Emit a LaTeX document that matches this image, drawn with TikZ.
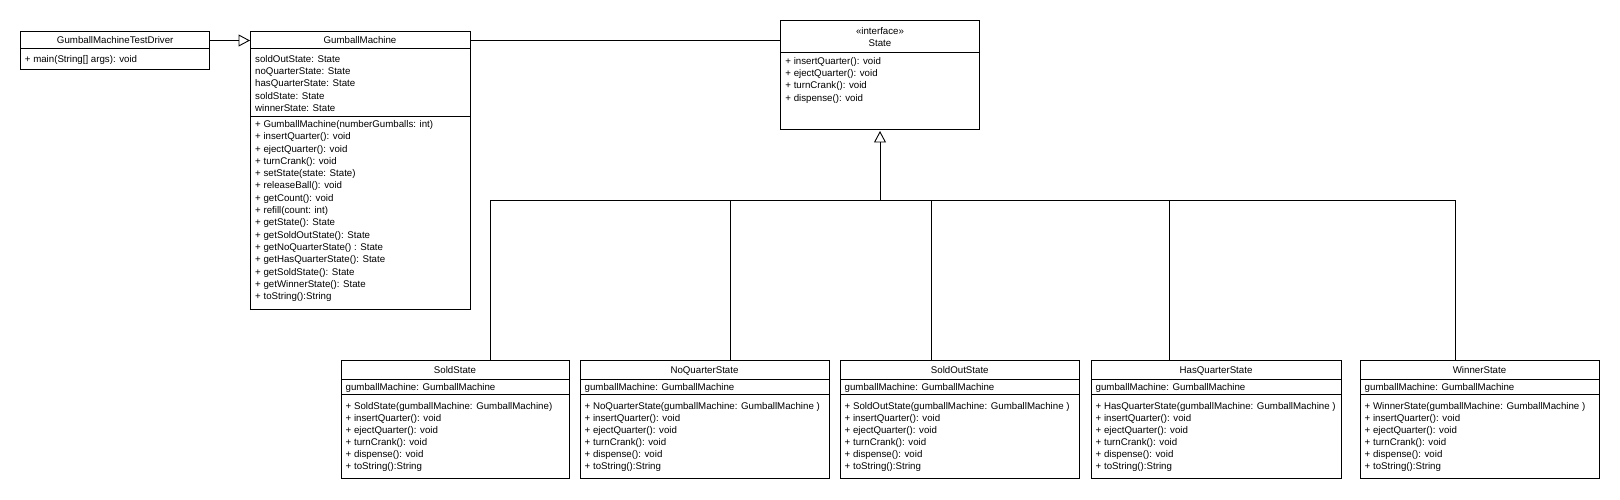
\documentclass[tikz,border=0pt]{standalone}
\usepackage{fontspec}
\setmainfont{Liberation Sans}
\usetikzlibrary{arrows.meta}
\newcommand\umlfont{\fontsize{9.7pt}{12pt}\selectfont}
\tikzset{
  umlbox/.style={draw=black, line width=0.9pt, fill=white, anchor=north west, inner sep=0pt, outer sep=0pt},
  ln/.style={anchor=base west, inner sep=0pt, font=\umlfont},
  ttl/.style={anchor=base, inner sep=0pt, font=\umlfont},
  conn/.style={draw=black, line width=0.9pt},
  gen/.style={conn, -{Triangle[open, length=11.5pt, width=12pt, line width=0.9pt]}},
}
\newcommand\umllines[5]{%
  \foreach \itm [count=\i] in {#5} {\node[ln] (#1\i) at (#2,{#3+#4*(\i-1)}) {\itm};}}
\newcommand\subcls[6]{%
  \node[umlbox, minimum width=#3pt, minimum height=118pt] (#1) at (#2,360) {};
  \draw[conn] ([yshift=-19pt]#1.north west) -- ([yshift=-19pt]#1.north east);
  \draw[conn] ([yshift=-34pt]#1.north west) -- ([yshift=-34pt]#1.north east);
  \node[ttl] (#1-t) at ({#2+#3/2},373) {#4};
  \node[ln] (#1-a1) at ({#2+4.5},390) {gumballMachine: GumballMachine};
  \umllines{#1-m}{#2+4.5}{409.5}{12}{{#6},{+ insertQuarter(): void},{+ ejectQuarter(): void},{+ turnCrank(): void},{+ dispense(): void},{+ toString():String}}
  \draw[conn] ([xshift={(#5-#2)*1pt}]#1.north west) |- (hub);
}
\begin{document}
\begin{tikzpicture}[x=1pt,y=-1pt]
\useasboundingbox[fill=white] (0,0) rectangle (1620,500);

% GumballMachineTestDriver
\node[umlbox, minimum width=189pt, minimum height=38pt] (driver) at (20.7,31) {};
\draw[conn] ([yshift=-17.6pt]driver.north west) -- ([yshift=-17.6pt]driver.north east);
\node[ttl] (driver-t) at (115.2,44) {GumballMachineTestDriver};
\node[ln] (driver-m1) at (24.7,62.5) {+ main(String[] args): void};

% GumballMachine
\node[umlbox, minimum width=220pt, minimum height=278pt] (gm) at (250,31) {};
\draw[conn] ([yshift=-17.6pt]gm.north west) -- ([yshift=-17.6pt]gm.north east);
\draw[conn] ([yshift=-85.8pt]gm.north west) -- ([yshift=-85.8pt]gm.north east);
\node[ttl] (gm-t) at (360,44) {GumballMachine};
\umllines{gm-a}{255}{62.5}{12.2}{{soldOutState: State},{noQuarterState: State},{hasQuarterState: State},{soldState: State},{winnerState: State}}
\umllines{gm-m}{255}{127.5}{12.3}{{+ GumballMachine(numberGumballs: int)},{+ insertQuarter(): void},{+ ejectQuarter(): void},{+ turnCrank(): void},{+ setState(state: State)},{+ releaseBall(): void},{+ getCount(): void},{+ refill(count: int)},{+ getState(): State},{+ getSoldOutState(): State},{+ getNoQuarterState() : State},{+ getHasQuarterState(): State},{+ getSoldState(): State},{+ getWinnerState(): State},{+ toString():String}}

% State interface
\node[umlbox, minimum width=198.6pt, minimum height=109pt] (state) at (780.7,20) {};
\draw[conn] ([yshift=-32.3pt]state.north west) -- ([yshift=-32.3pt]state.north east);
\node[ttl] (state-s) at (880,34.2) {«interface»};
\node[ttl] (state-t) at (880,46.8) {State};
\umllines{state-m}{785.2}{64.5}{12.2}{{+ insertQuarter(): void},{+ ejectQuarter(): void},{+ turnCrank(): void},{+ dispense(): void}}

% connectors top row
\coordinate (drvR) at ([yshift=-9.5pt]driver.north east);
\draw[gen] (drvR) -- (drvR -| gm.west);
\coordinate (gmR) at ([yshift=-9.5pt]gm.north east);
\draw[conn] (gmR) -- (gmR -| state.west);

% hub for implementations
\coordinate (hub) at (880,200);
\draw[gen, shorten >=2pt] (hub) -- (state.south);

\subcls{sold}{341}{228}{SoldState}{490.7}{+ SoldState(gumballMachine: GumballMachine)}
\subcls{noq}{580}{249}{NoQuarterState}{730.3}{+ NoQuarterState(gumballMachine: GumballMachine )}
\subcls{soldout}{840}{239.5}{SoldOutState}{931}{+ SoldOutState(gumballMachine: GumballMachine )}
\subcls{hasq}{1091}{250}{HasQuarterState}{1169}{+ HasQuarterState(gumballMachine: GumballMachine )}
\subcls{winner}{1360}{239}{WinnerState}{1455.5}{+ WinnerState(gumballMachine: GumballMachine )}
\end{tikzpicture}
\end{document}
